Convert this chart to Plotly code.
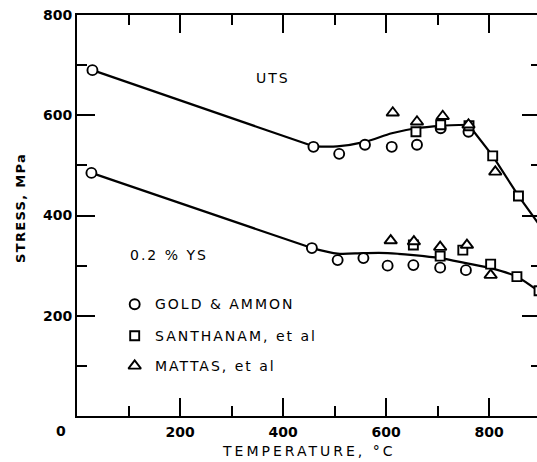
import plotly.graph_objects as go

# --- Ultimate tensile strength (UTS), MPa vs temperature, deg C ---
uts_gold_x = [30, 459, 509, 559, 611, 660, 706, 760]
uts_gold_y = [690, 537, 523, 541, 537, 541, 574, 567]
uts_santh_x = [658, 706, 761, 807, 857]
uts_santh_y = [567, 581, 579, 519, 439]
uts_mattas_x = [613, 660, 710, 760, 812]
uts_mattas_y = [605, 587, 598, 581, 487]

# fitted UTS curve: straight part, smooth plateau, steep fall-off
uts_lin_x = [30, 459]
uts_lin_y = [690, 538]
uts_mid_x = [459, 505, 559, 611, 658, 706, 760]
uts_mid_y = [538, 538, 547, 564, 574, 579, 581]
uts_hi_x = [760, 807, 857, 900]
uts_hi_y = [581, 519, 439, 378]

# --- 0.2 % yield strength (YS) ---
ys_gold_x = [28, 456, 506, 556, 603, 653, 705, 755]
ys_gold_y = [485, 335, 311, 315, 300, 301, 296, 291]
ys_santh_x = [653, 705, 749, 803, 854, 897]
ys_santh_y = [341, 319, 331, 303, 278, 250]
ys_mattas_x = [609, 654, 705, 757, 803]
ys_mattas_y = [350, 348, 337, 341, 281]

ys_lin_x = [28, 456]
ys_lin_y = [485, 335]
ys_fit_x = [456, 506, 556, 603, 653, 705, 755, 803, 854, 900]
ys_fit_y = [335, 324, 325, 325, 321, 315, 305, 295, 278, 246]

# axis ticks
x_major = [200, 400, 600, 800]
x_minor = [100, 300, 500, 700]
y_major = [200, 400, 600, 800]
y_minor = [100, 300, 500, 700]

# key entries (symbol, label, y position on the stress scale)
key_symbols = ["circle", "square", "triangle-up"]
key_sizes = [10, 9, 11]
key_labels = ["GOLD &amp; AMMON", "SANTHANAM, et al", "MATTAS, et al"]
key_y = [223, 160, 100]
key_sym_x = 112
key_text_x = 148

FONT = "DejaVu Sans"
INK = "black"


def spaced(text, px):
    """Wrap text in a span with extra letter spacing (lettering look)."""
    return f'<span style="letter-spacing:{px}px">{text}</span>'


fig = go.Figure()

for xs, ys, shape in [
    (uts_lin_x, uts_lin_y, "linear"),
    (uts_mid_x, uts_mid_y, "spline"),
    (uts_hi_x, uts_hi_y, "linear"),
    (ys_lin_x, ys_lin_y, "linear"),
    (ys_fit_x, ys_fit_y, "spline"),
]:
    fig.add_trace(go.Scatter(x=xs, y=ys, mode="lines",
                             line=dict(color=INK, width=2.2, shape=shape,
                                       smoothing=0.8),
                             hoverinfo="skip"))


def markers(xs, ys, symbol, size):
    return go.Scatter(
        x=xs, y=ys, mode="markers",
        marker=dict(symbol=symbol, size=size, color="white",
                    line=dict(color=INK, width=1.9)),
    )


fig.add_trace(markers(uts_gold_x, uts_gold_y, "circle", 10))
fig.add_trace(markers(ys_gold_x, ys_gold_y, "circle", 10))
fig.add_trace(markers(uts_santh_x, uts_santh_y, "square", 9))
fig.add_trace(markers(ys_santh_x, ys_santh_y, "square", 9))
fig.add_trace(markers(uts_mattas_x, uts_mattas_y, "triangle-up", 11))
fig.add_trace(markers(ys_mattas_x, ys_mattas_y, "triangle-up", 11))

# key symbols
for sym, yk, size in zip(key_symbols, key_y, key_sizes):
    fig.add_trace(markers([key_sym_x], [yk], sym, size))

# carrier for the right-hand tick marks
fig.add_trace(go.Scatter(x=[None], y=[None], yaxis="y2", hoverinfo="skip"))

txt_font = dict(family=FONT, size=14, color=INK)
ann = []
for lab, yk in zip(key_labels, key_y):
    ann.append(dict(x=key_text_x, y=yk, text=spaced(lab, 2), showarrow=False,
                    xanchor="left", yanchor="middle", font=txt_font))
ann.append(dict(x=381, y=675, text=spaced("UTS", 2), showarrow=False,
                font=txt_font))
ann.append(dict(x=99, y=321, text=spaced("0.2 % YS", 2), showarrow=False,
                xanchor="left", font=txt_font))
# axis titles and origin label
ann.append(dict(xref="paper", yref="paper", x=-0.1217, y=0.519,
                text=spaced("STRESS, MPa", 1.3), textangle=-90,
                showarrow=False, xanchor="center", yanchor="middle",
                font=dict(family=FONT, size=13, color=INK, weight="bold")))
ann.append(dict(xref="paper", yref="paper", x=0.504, y=-0.087,
                text=spaced("TEMPERATURE, °C", 3), showarrow=False,
                xanchor="center", yanchor="middle",
                font=dict(family=FONT, size=14, color=INK)))
ann.append(dict(xref="paper", yref="paper", x=-0.0348, y=-0.0374,
                text="0", showarrow=False, xanchor="center",
                yanchor="middle",
                font=dict(family=FONT, size=14, color=INK, weight="bold")))

tickfont = dict(family=FONT, size=14, color=INK, weight="bold")

fig.update_layout(
    width=537, height=462,
    margin=dict(l=77, r=0, t=15, b=46),
    paper_bgcolor="white", plot_bgcolor="white",
    showlegend=False,
    annotations=ann,
    xaxis=dict(
        range=[0, 893], tickvals=x_major, ticks="inside", ticklen=18,
        tickwidth=2, tickcolor=INK, showline=True, linewidth=2,
        linecolor=INK, mirror="ticks", showgrid=False, zeroline=False,
        tickfont=tickfont, ticklabelstandoff=2,
        minor=dict(tickvals=x_minor, ticks="inside", ticklen=10,
                   tickwidth=2, tickcolor=INK, showgrid=False),
    ),
    yaxis=dict(
        range=[0, 800], tickvals=y_major, ticks="inside", ticklen=18,
        tickwidth=2, tickcolor=INK, showline=True, linewidth=2,
        linecolor=INK, mirror=False, showgrid=False, zeroline=False,
        tickfont=tickfont, ticklabelstandoff=0,
        minor=dict(tickvals=y_minor, ticks="inside", ticklen=10,
                   tickwidth=2, tickcolor=INK, showgrid=False),
    ),
    yaxis2=dict(
        overlaying="y", side="right", range=[0, 800],
        tickvals=[200, 400, 600], ticks="inside", ticklen=15, tickwidth=2,
        tickcolor=INK, showline=False, showgrid=False, zeroline=False,
        showticklabels=False,
        minor=dict(tickvals=y_minor, ticks="inside", ticklen=6,
                   tickwidth=2, tickcolor=INK, showgrid=False),
    ),
)

fig.write_html("out.html")
